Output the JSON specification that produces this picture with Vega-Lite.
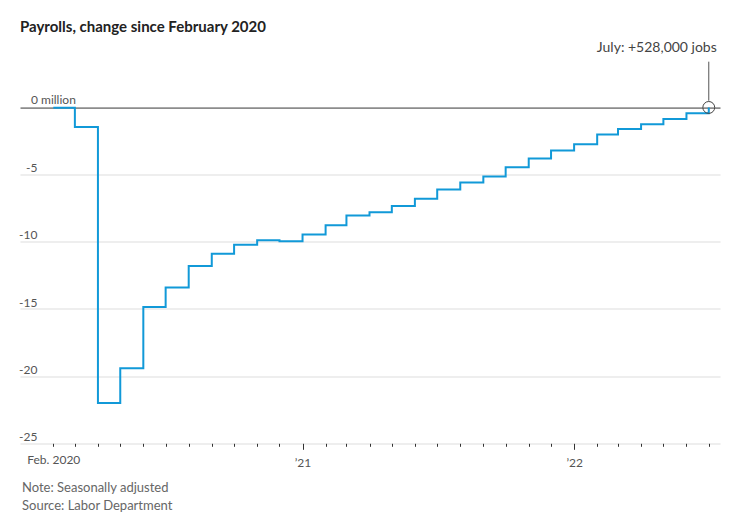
{
  "$schema": "https://vega.github.io/schema/vega-lite/v6.json",
  "autosize": {"type": "none"},
  "width": 700,
  "height": 402.7,
  "padding": {"left": 20, "top": 40.6, "right": 17, "bottom": 74.7},
  "background": "white",
  "title": {
    "text": "Payrolls, change since February 2020",
    "anchor": "start",
    "frame": "group",
    "font": "Lato",
    "fontSize": 15,
    "fontWeight": "bold",
    "color": "#222222",
    "baseline": "alphabetic",
    "offset": 14,
    "dy": 20
  },
  "config": {
    "view": {"stroke": null},
    "font": "Lato"
  },
  "datasets": {
    "payrolls": [
      {"date": "2020-02-01", "value": 0},
      {"date": "2020-03-01", "value": -1.44},
      {"date": "2020-04-01", "value": -22.0},
      {"date": "2020-05-01", "value": -19.4},
      {"date": "2020-06-01", "value": -14.85},
      {"date": "2020-07-01", "value": -13.4},
      {"date": "2020-08-01", "value": -11.8},
      {"date": "2020-09-01", "value": -10.87},
      {"date": "2020-10-01", "value": -10.2},
      {"date": "2020-11-01", "value": -9.87},
      {"date": "2020-12-01", "value": -9.95},
      {"date": "2021-01-01", "value": -9.45},
      {"date": "2021-02-01", "value": -8.75},
      {"date": "2021-03-01", "value": -8.03},
      {"date": "2021-04-01", "value": -7.78},
      {"date": "2021-05-01", "value": -7.33},
      {"date": "2021-06-01", "value": -6.79},
      {"date": "2021-07-01", "value": -6.09},
      {"date": "2021-08-01", "value": -5.57},
      {"date": "2021-09-01", "value": -5.12},
      {"date": "2021-10-01", "value": -4.43},
      {"date": "2021-11-01", "value": -3.78},
      {"date": "2021-12-01", "value": -3.18},
      {"date": "2022-01-01", "value": -2.73},
      {"date": "2022-02-01", "value": -1.99},
      {"date": "2022-03-01", "value": -1.59},
      {"date": "2022-04-01", "value": -1.24},
      {"date": "2022-05-01", "value": -0.84},
      {"date": "2022-06-01", "value": -0.42},
      {"date": "2022-07-01", "value": 0.02}
    ],
    "annotation": [
      {"date": "2022-07-01", "value": 0.02, "ruleStart": 0.52, "ruleEnd": 3.43, "textY": 4.17, "label": "July: +528,000 jobs"}
    ],
    "zeroLabel": [
      {"date": "2020-02-01", "value": 0, "label": "0 million"}
    ]
  },
  "encoding": {
    "x": {
      "field": "date",
      "type": "temporal",
      "scale": {
        "type": "utc",
        "domain": [
          {"year": 2019, "month": 12, "date": 18, "hours": 6, "utc": true},
          {"year": 2022, "month": 7, "date": 16, "hours": 2, "utc": true}
        ]
      },
      "axis": {
        "orient": "bottom",
        "domain": false,
        "grid": false,
        "tickCount": {"interval": "month", "step": 1},
        "tickColor": "#333333",
        "tickWidth": 1,
        "tickSize": {"condition": {"test": "utcmonth(datum.value) === 0", "value": 6}, "value": 3},
        "tickOpacity": {"condition": {"test": "datum.value < 1580000000000", "value": 0}, "value": 1},
        "labelExpr": "(utcmonth(datum.value) === 0 && utcyear(datum.value) > 2020) ? '’' + utcFormat(datum.value, '%y') : ((utcyear(datum.value) === 2020 && utcmonth(datum.value) === 1) ? 'Feb. 2020' : '')",
        "labelOverlap": false,
        "labelFlush": false,
        "labelFont": "Lato",
        "labelFontSize": 12,
        "labelColor": "#555555",
        "labelBaseline": "top",
        "labelPadding": 8,
        "title": ["Note: Seasonally adjusted", "Source: Labor Department"],
        "titleFont": "Lato",
        "titleFontSize": 13,
        "titleFontWeight": "normal",
        "titleColor": "#666666",
        "titleAnchor": "start",
        "titleAlign": "left",
        "titleBaseline": "alphabetic",
        "titleLineHeight": 18,
        "titleX": 1.5,
        "titleY": 48.4
      }
    },
    "y": {
      "field": "value",
      "type": "quantitative",
      "scale": {"domain": [-25, 5], "nice": false, "zero": false},
      "axis": {
        "orient": "left",
        "values": [-25, -20, -15, -10, -5, 0],
        "domain": false,
        "ticks": false,
        "tickSize": 0,
        "grid": true,
        "gridColor": {"condition": {"test": "datum.value === 0", "value": "#8c8c8c"}, "value": "#eeeeee"},
        "gridWidth": {"condition": {"test": "datum.value === 0", "value": 1.6}, "value": 2},
        "labelExpr": "datum.value === 0 ? '' : '-' + abs(datum.value)",
        "labelAlign": "right",
        "labelBaseline": "alphabetic",
        "labelPadding": -17,
        "labelOffset": -3,
        "labelFont": "Lato",
        "labelFontSize": 12,
        "labelColor": "#555555",
        "title": null
      }
    }
  },
  "layer": [
    {
      "data": {"name": "payrolls"},
      "mark": {"type": "line", "interpolate": "step-after", "color": "#1199d8", "strokeWidth": 2}
    },
    {
      "data": {"name": "zeroLabel"},
      "mark": {"type": "text", "align": "left", "baseline": "alphabetic", "dx": -22.3, "dy": -3.4, "font": "Lato", "fontSize": 12, "color": "#555555"},
      "encoding": {"text": {"field": "label"}}
    },
    {
      "data": {"name": "annotation"},
      "mark": {"type": "rule", "color": "#555555", "strokeWidth": 1},
      "encoding": {
        "y": {"field": "ruleStart", "type": "quantitative"},
        "y2": {"field": "ruleEnd"}
      }
    },
    {
      "data": {"name": "annotation"},
      "mark": {"type": "point", "shape": "circle", "filled": false, "size": 141, "color": "#444444", "strokeWidth": 1, "opacity": 1}
    },
    {
      "data": {"name": "annotation"},
      "mark": {"type": "text", "align": "right", "baseline": "alphabetic", "dx": 8, "font": "Lato", "fontSize": 14, "color": "#444444"},
      "encoding": {
        "y": {"field": "textY", "type": "quantitative"},
        "text": {"field": "label"}
      }
    }
  ]
}
